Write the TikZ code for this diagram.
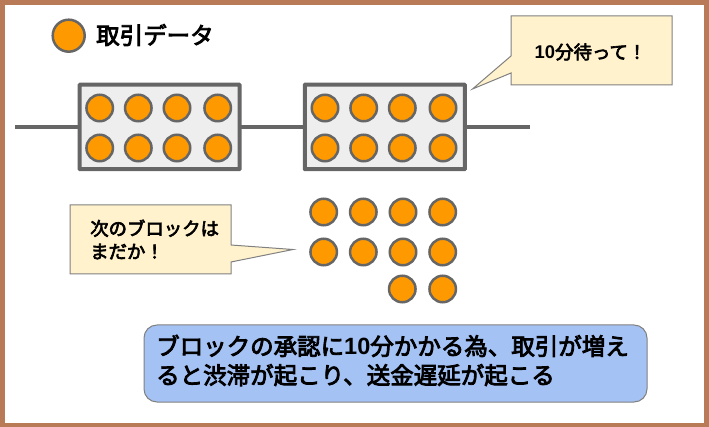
\documentclass[tikz,border=0pt]{standalone}
\usepackage{fontspec}
\setmainfont[BoldFont={Noto Sans CJK JP},BoldFeatures={FakeBold=3.5}]{Noto Sans CJK JP}
\newfontfamily\numfont{Liberation Sans Bold}
\usepackage{tikz}
\definecolor{txorange}{HTML}{FF9900}
\definecolor{linegray}{HTML}{666666}
\definecolor{blockgray}{HTML}{EEEEEE}
\definecolor{noteyellow}{HTML}{FFF2CC}
\definecolor{noteblue}{HTML}{A4C2F4}
\definecolor{framebrown}{HTML}{B97A57}
\tikzset{
  tx/.style={circle, draw=linegray, fill=txorange, line width=2.5pt,
             minimum size=26.5pt, inner sep=0pt, outer sep=0pt},
  block/.style={draw=linegray, fill=blockgray, line width=4pt, rounded corners=0.5pt,
                minimum width=160pt, minimum height=84.5pt, inner sep=0pt, outer sep=0pt},
  chain/.style={draw=linegray, line width=4pt},
  callout/.style={draw=black!50, fill=noteyellow, line width=1pt, line join=miter},
  say/.style={font=\bfseries\fontsize{18.4}{23}\selectfont, align=left, inner sep=0pt},
}
\begin{document}
\begin{tikzpicture}[x=1pt, y=-1pt]
  \useasboundingbox (0,0) rectangle (709,427);
  \draw[framebrown, line width=5pt] (2.5,2.5) rectangle (706.5,425);

  % legend
  \node[tx, minimum size=32pt] (legend) at (68.7,35.7) {};
  \node[anchor=west, inner sep=0pt, font=\bfseries\fontsize{23.5}{23}\selectfont] (legendtext) at (96,35) {取引データ};

  % chain
  \node[block] (B1) at (159.6,127) {};
  \node[block] (B2) at (384.8,127) {};
  \coordinate (Cstart) at (15,127);
  \coordinate (Cend) at (529.5,127);
  \foreach \i/\j in {Cstart/B1, B1/B2, B2/Cend} {
      \draw[chain] (\i) -- (\j);
  }
  \foreach \r/\y in {a/108, b/148} {
      \foreach \i/\x in {1/99.7, 2/138.3, 3/177, 4/217.7} {
          \node[tx] (P\r\i) at (\x,\y) {};
      }
      \foreach \i/\x in {1/325, 2/363.7, 3/402.3, 4/443} {
          \node[tx] (Q\r\i) at (\x,\y) {};
      }
  }

  % waiting transactions
  \foreach \i/\x/\y in {1/323.7/212, 2/363.3/212, 3/403/212, 4/442.7/212,
          5/323.7/252, 6/363.3/252, 7/403/252, 8/442.7/252,
          9/402.3/289, 10/442.7/289} {
      \node[tx] (W\i) at (\x,\y) {};
  }

  % callouts
  \draw[callout] (511,16) -- (672,16) -- (672,85) -- (511,85) -- (511,73)
      -- (472.5,89) -- (511,56) -- cycle;
  \node[say, anchor=center] (waitnote) at (590.5,52) {{\numfont 10}分待って！};
  \draw[callout] (70,205) -- (231,205) -- (231,245) -- (293,249.5) -- (231,262)
      -- (231,274) -- (70,274) -- cycle;
  \node[say, anchor=west] (nextnote) at (90,239.5) {次のブロックは\\まだか！};

  % summary
  \node[draw=black!50, fill=noteblue, line width=1pt, rounded corners=13pt,
        minimum width=503pt, minimum height=77pt, inner sep=0pt] (summary) at (395.5,363.5) {};
  \node[anchor=west, align=left, inner sep=0pt, font=\bfseries\fontsize{23.5}{29}\selectfont]
      (summarytext) at (156,360.5) {ブロックの承認に{\numfont 10}分かかる為、取引が増え\\ると渋滞が起こり、送金遅延が起こる};
\end{tikzpicture}
\end{document}
